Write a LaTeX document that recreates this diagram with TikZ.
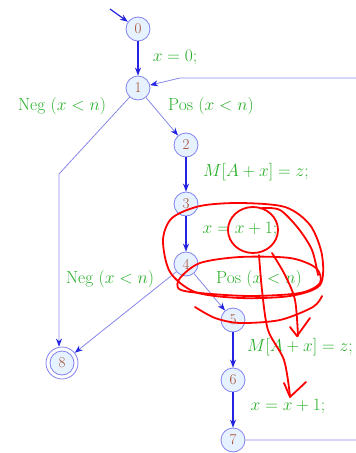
\RequirePackage{fix-cm}
\documentclass[tikz,border=0pt]{standalone}
\usetikzlibrary{arrows.meta}

\definecolor{nodefill}{RGB}{230,242,255}
\definecolor{nodedraw}{RGB}{130,130,240}
\definecolor{numcol}{RGB}{165,75,40}
\definecolor{edgedark}{RGB}{35,35,225}
\definecolor{edgelight}{RGB}{135,135,235}
\definecolor{labcol}{RGB}{40,175,40}

\begin{document}
\begin{tikzpicture}[x=1pt,y=-1pt,
    state/.style={circle,draw=nodedraw,fill=nodefill,text=numcol,line width=0.8pt,
      minimum size=24pt,inner sep=0pt,font=\fontsize{15}{18}\selectfont},
    final/.style={circle,draw=nodedraw,fill=white,line width=0.8pt,minimum size=32pt,inner sep=0pt},
    lab/.style={text=labcol,font=\fontsize{17.5}{21}\selectfont},
    hard/.style={draw=edgedark,line width=1.2pt,-{Stealth[length=8pt,width=6pt]}},
    soft/.style={draw=edgelight,line width=0.8pt,-{Stealth[length=8pt,width=6pt,color=edgedark]}},
    scrib/.style={draw=red,line width=1.8pt,line cap=round,line join=round}]
    \useasboundingbox (0,0) rectangle (356,453);

    % states
    \node[state] (n0) at (138,29) {0};
    \node[state] (n1) at (138,88) {1};
    \node[state] (n2) at (186,145) {2};
    \node[state] (n3) at (186,204) {3};
    \node[state] (n4) at (186,264) {4};
    \node[state] (n5) at (233,320) {5};
    \node[state] (n6) at (233,380) {6};
    \node[state] (n7) at (233,440) {7};
    \node[final] (n8) at (62,363) {};
    \node[state] (n8in) at (n8) {8};

    % helper points
    \coordinate (start) at (110,9);
    \coordinate (bend18) at (59,174);
    \coordinate (out7) at (380,440);
    \coordinate (up7) at (380,78);
    \coordinate (in1) at (180,78);

    % edges
    \draw[hard] (start) -- (n0);
    \draw[hard] (n0) -- (n1);
    \draw[soft] (n1) -- (n2);
    \draw[soft] (n1) -- (bend18) -- (bend18 |- n8.north);
    \draw[hard] (n2) -- (n3);
    \draw[hard] (n3) -- (n4);
    \draw[soft] (n4) -- (n8);
    \draw[soft] (n4) -- (n5);
    \draw[hard] (n5) -- (n6);
    \draw[hard] (n6) -- (n7);
    \draw[soft] (n7) -- (out7) -- (up7) -- (in1) -- (n1);

    % labels
    \node[lab] (l01) at (175,58) {$x = 0;$};
    \node[lab] (l18) at (62,106) {Neg $(x < n)$};
    \node[lab] (l12) at (211,106) {Pos $(x < n)$};
    \node[lab] (l23) at (256,172) {$M[A+x] = z;$};
    \node[lab] (l34) at (240,230) {$x = x + 1;$};
    \node[lab] (l48) at (110,279) {Neg $(x < n)$};
    \node[lab] (l45) at (259,279) {Pos $(x < n)$};
    \node[lab] (l56) at (300,347) {$M[A+x] = z;$};
    \node[lab] (l67) at (288,407) {$x = x + 1;$};

    % red scribbles
    \draw[scrib] (253,230) ellipse (25 and 23);
    \draw[scrib] plot[smooth cycle] coordinates {(200,206) (240,203) (285,207) (310,225)
      (322,255) (320,285) (290,296) (240,298) (195,292) (170,272) (163,240) (172,218)};
    \draw[scrib] plot[smooth cycle] coordinates {(180,278) (200,263) (240,257) (290,258)
      (316,268) (320,283) (300,293) (250,296) (200,293) (179,289)};
    \draw[scrib] plot[smooth] coordinates {(195,307) (215,318) (240,323) (280,320) (313,307) (322,296)};
    \draw[scrib] plot[smooth] coordinates {(262,208) (280,210) (298,228) (312,250) (318,275)};
    \draw[scrib] plot[smooth] coordinates {(259,255) (262,290) (268,330) (284,360) (290,396)};
    \draw[scrib] (284,383) -- (290,397) -- (306,382);
    \draw[scrib] plot[smooth] coordinates {(272,253) (285,275) (295,300) (298,336)};
    \draw[scrib] (290,327) -- (297,336) -- (310,318);
\end{tikzpicture}
\end{document}
